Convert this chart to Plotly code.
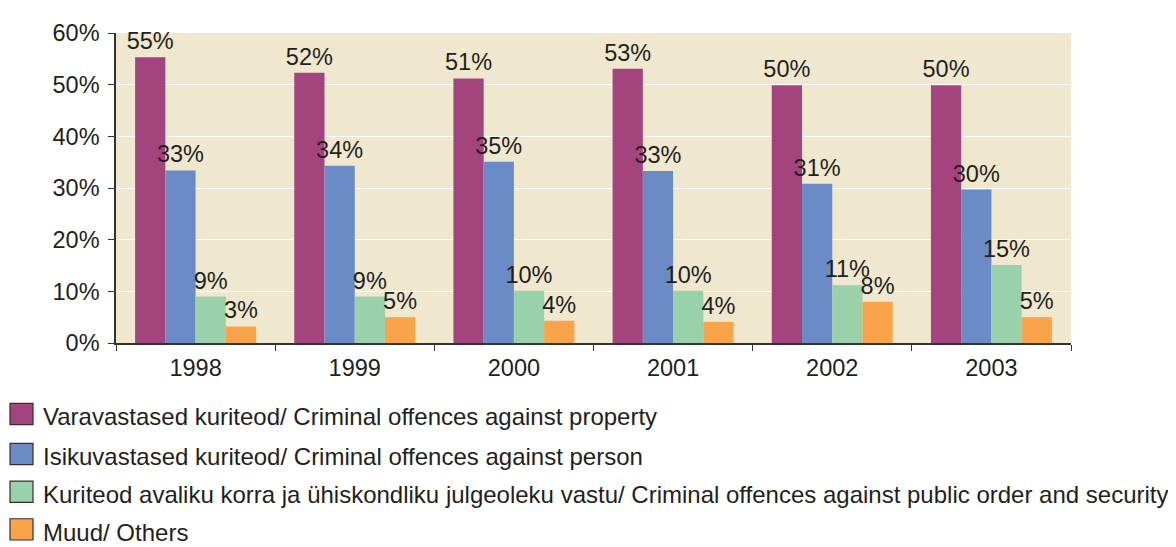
import plotly.graph_objects as go

years = ["1998", "1999", "2000", "2001", "2002", "2003"]
series_names = [
    "Varavastased kuriteod/ Criminal offences against property",
    "Isikuvastased kuriteod/ Criminal offences against person",
    "Kuriteod avaliku korra ja ühiskondliku julgeoleku vastu/ Criminal offences against public order and security",
    "Muud/ Others",
]
property_vals = [55.3, 52.3, 51.2, 53.1, 49.9, 49.9]
person_vals = [33.4, 34.3, 35.1, 33.3, 30.8, 29.7]
public_vals = [9.0, 9.0, 10.1, 10.1, 11.2, 15.1]
other_vals = [3.2, 5.0, 4.3, 4.1, 8.0, 5.0]
colors = ["#a4447f", "#6b8bc6", "#99d1ab", "#f9a44a"]

OFF = 8  # default body margin of the page
W, H = 1168, 539
L, R, T, B = 116 - OFF, 1071 - OFF, 22 - OFF, 343 - OFF
FONT = "Arial, Liberation Sans, sans-serif"
TXT = "#231f20"

fig = go.Figure()
for name, vals, col in zip(series_names, [property_vals, person_vals, public_vals, other_vals], colors):
    fig.add_trace(go.Bar(
        x=years, y=vals, name=name, marker=dict(color=col, line=dict(width=0)),
        texttemplate="%{y:.0f}%", textposition="outside", constraintext="none",
        cliponaxis=False, textfont=dict(size=23.5, color=TXT, family=FONT),
        showlegend=False,
    ))

def px(xpage):
    return (xpage - OFF - L) / (R - L)

def py(ypage):
    return (B - (ypage - OFF)) / (B - T)

shapes = []
annotations = []
row_centers = [416.5, 458, 497, 536]
for name, col, yc in zip(series_names, colors, row_centers):
    shapes.append(dict(type="rect", xref="paper", yref="paper",
                       x0=px(10), x1=px(33), y0=py(yc + 11), y1=py(yc - 11),
                       fillcolor=col, line=dict(color="#3a2a35", width=1.2)))
    annotations.append(dict(xref="paper", yref="paper", x=px(41), y=py(yc + 3),
                            xanchor="left", yanchor="middle", text=name, showarrow=False,
                            font=dict(size=24, color=TXT, family=FONT)))

fig.update_layout(
    width=W, height=H,
    margin=dict(l=L, r=W - R, t=T, b=H - B, pad=0),
    paper_bgcolor="white", plot_bgcolor="#f0e7cf",
    barmode="group", bargap=0.24, bargroupgap=0,
    font=dict(family=FONT, size=23.5, color=TXT),
    shapes=shapes, annotations=annotations,
    xaxis=dict(type="category", showline=True, linecolor="#333333", linewidth=1.5,
               ticks="outside", tickson="boundaries", ticklen=6, tickcolor="#333333",
               ticklabelstandoff=3,
               tickfont=dict(size=23.5, color=TXT), showgrid=False),
    yaxis=dict(range=[0, 60], dtick=10, ticksuffix="%", showline=True, linecolor="#333333",
               linewidth=1.5, ticks="outside", ticklen=6, tickcolor="#333333",
               ticklabelstandoff=4,
               gridcolor="white", gridwidth=1.2, zeroline=False,
               tickfont=dict(size=23.5, color=TXT)),
)

fig.write_html("out.html")
